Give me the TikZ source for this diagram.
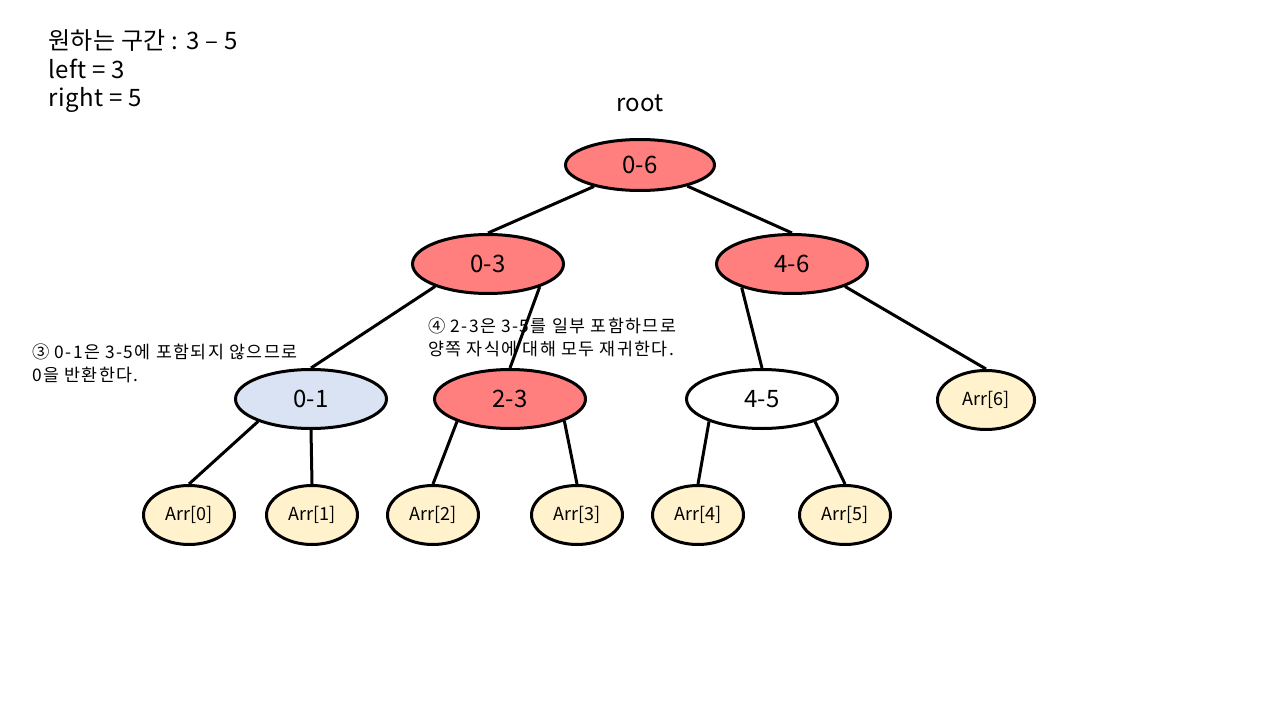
\documentclass[tikz,border=0pt]{standalone}
\usepackage{fontspec}
\setmainfont{Noto Sans CJK KR}
\newfontfamily\notefont[LetterSpace=8]{Noto Sans CJK KR}
\newfontfamily\bigfont[LetterSpace=2]{Noto Sans CJK KR}
\usetikzlibrary{shapes.geometric}
\definecolor{redf}{HTML}{FF7F7F}
\definecolor{bluef}{HTML}{DAE3F3}
\definecolor{creamf}{HTML}{FFF2CC}
\tikzset{
  ell/.style={ellipse, draw=black, line width=2.25pt, inner sep=0pt, font=\fontsize{18}{21}\selectfont},
  mid/.style={ell, minimum width=113.25pt, minimum height=44.25pt},
  leaf/.style={ell, fill=creamf, minimum width=68.25pt, minimum height=44.25pt, font=\fontsize{13.5}{15}\selectfont},
  edge/.style={line width=2.25pt, draw=black},
  big/.style={inner sep=0pt, anchor=base west, font=\bigfont\fontsize{18}{21}\selectfont},
  note/.style={inner sep=0pt, anchor=base west, font=\notefont\fontsize{13}{15}\selectfont}
}
\begin{document}
\begin{tikzpicture}[x=0.75pt,y=-0.75pt]
\useasboundingbox (0,0) rectangle (1280,720);
\fill[white] (0,0) rectangle (1280,720);
% top text
\node[big] (t1) at (48,50) {원하는 구간 : 3 – 5};
\node[big] (t2) at (48,79) {left = 3};
\node[big] (t3) at (48,107) {right = 5};
\node[inner sep=0pt, anchor=base, font=\fontsize{18}{21}\selectfont] (rootlbl) at (640,112) {root};
% nodes
\node[ell, fill=redf, minimum width=111.75pt, minimum height=38.25pt] (n06) at (640,165) {0-6};
\node[mid, fill=redf] (n03) at (488,264) {0-3};
\node[mid, fill=redf] (n46) at (792,264) {4-6};
\node[mid, fill=bluef] (n01) at (311,399) {0-1};
\node[mid, fill=redf] (n23) at (510,399) {2-3};
\node[mid, fill=white] (n45) at (762,399) {4-5};
\node[leaf, minimum width=72.75pt] (a6) at (986,400) {Arr[6]};
\node[leaf] (a0) at (189,515) {Arr[0]};
\node[leaf] (a1) at (312,515) {Arr[1]};
\node[leaf] (a2) at (433,515) {Arr[2]};
\node[leaf] (a3) at (577,515) {Arr[3]};
\node[leaf] (a4) at (698,515) {Arr[4]};
\node[leaf] (a5) at (845,515) {Arr[5]};
% annotations
\node[note] (c1) at (32,358) {③ 0-1은 3-5에 포함되지 않으므로};
\node[note] (c2) at (32,381) {0을 반환한다.};
\node[note] (d1) at (428,332) {④ 2-3은 3-5를 일부 포함하므로};
\node[note] (d2) at (428,355) {양쪽 자식에 대해 모두 재귀한다.};
% edges
\draw[edge] (n06.-155) -- (n03.north);
\draw[edge] (n06.-24) -- (n46.north);
\draw[edge] (n03.-157) -- (n01.north);
\draw[edge] (n03.-24) -- (n23.north);
\draw[edge] (n46.-155) -- (n45.north);
\draw[edge] (n46.-23) -- (a6.north);
\draw[edge] (n01.-157) -- (a0.north);
\draw[edge] (n01.south) -- (a1.north);
\draw[edge] (n23.-157) -- (a2.north);
\draw[edge] (n23.-22) -- (a3.north);
\draw[edge] (n45.-157) -- (a4.north);
\draw[edge] (n45.-23) -- (a5.north);
\end{tikzpicture}
\end{document}
